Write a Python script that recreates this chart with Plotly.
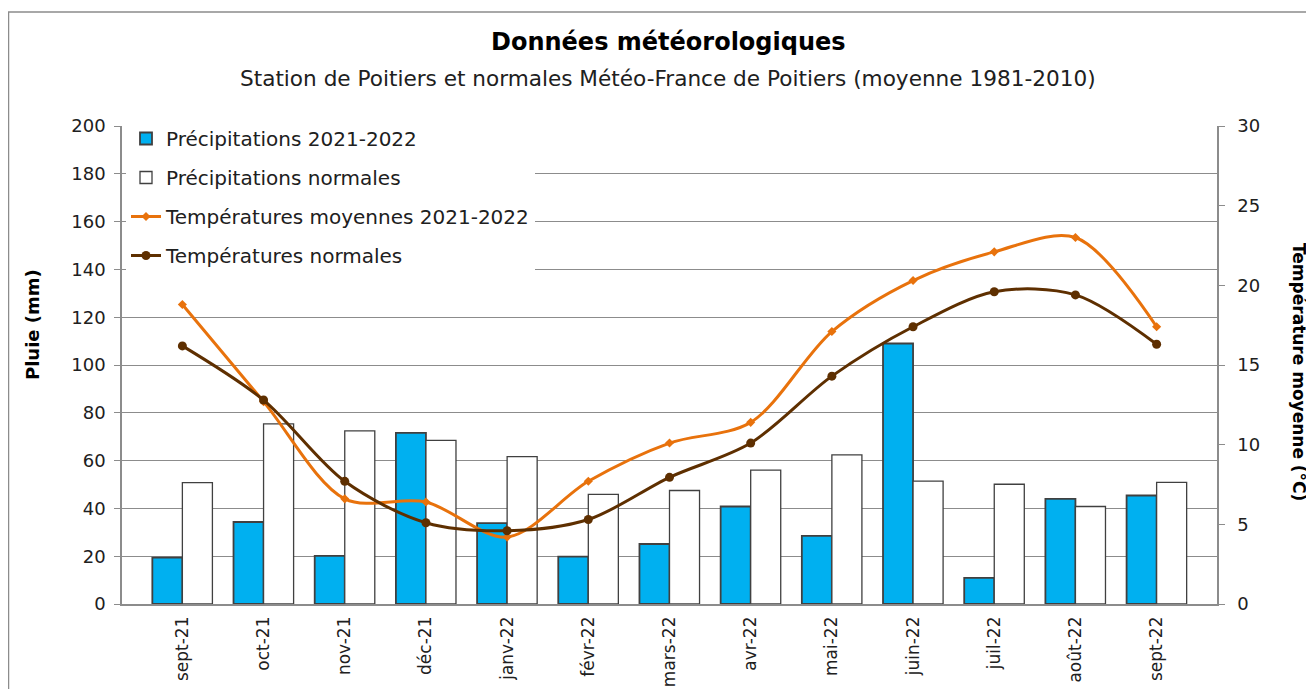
import plotly.graph_objects as go

months = ["sept-21", "oct-21", "nov-21", "déc-21", "janv-22", "févr-22", "mars-22",
          "avr-22", "mai-22", "juin-22", "juil-22", "août-22", "sept-22"]

pluie_2122 = [19.4, 34.3, 20.1, 71.6, 33.8, 19.8, 25.1, 40.8, 28.5, 109.0, 10.9, 44.0, 45.4]
pluie_normale = [50.8, 75.4, 72.4, 68.5, 61.7, 45.9, 47.5, 56.0, 62.4, 51.4, 50.1, 40.8, 50.9]
temp_2122 = [18.8, 12.7, 6.6, 6.4, 4.2, 7.7, 10.1, 11.4, 17.1, 20.3, 22.1, 23.0, 17.4]
temp_normale = [16.2, 12.8, 7.7, 5.1, 4.6, 5.3, 7.95, 10.1, 14.3, 17.4, 19.6, 19.4, 16.3]

BLUE = "#00B0F0"
EDGE = "#404040"
ORANGE = "#E8720C"
BROWN = "#5E2F00"
GRID = "#8C8C8C"
FONT = "DejaVu Sans"

# the page body adds 8px around the figure, so the figure is 8px smaller
W, H = 1306, 681
L, R, T, B = 114, 97, 118, 85
plot_w = W - L - R
plot_h = H - T - B


def px_x(x):
    return (x - L) / plot_w


def px_y(y):
    return (H - B - y) / plot_h


fig = go.Figure()

fig.add_trace(go.Bar(
    x=months, y=pluie_2122, name="Précipitations 2021-2022",
    marker=dict(color=BLUE, line=dict(color=EDGE, width=1.8)),
    legendgroup="a",
))
fig.add_trace(go.Bar(
    x=months, y=pluie_normale, name="Précipitations normales",
    marker=dict(color="white", line=dict(color=EDGE, width=1.3)),
    legendgroup="b",
))
fig.add_trace(go.Scatter(
    x=months, y=temp_2122, name="Températures moyennes 2021-2022",
    yaxis="y2", mode="lines+markers",
    line=dict(color=ORANGE, width=3, shape="spline", smoothing=0.9),
    marker=dict(symbol="diamond", size=7, color=ORANGE),
    legendgroup="c",
))
fig.add_trace(go.Scatter(
    x=months, y=temp_normale, name="Températures normales",
    yaxis="y2", mode="lines+markers",
    line=dict(color=BROWN, width=3, shape="spline", smoothing=0.9),
    marker=dict(symbol="circle", size=9, color=BROWN),
    legendgroup="d",
))

fig.update_layout(
    width=W, height=H,
    margin=dict(l=L, r=R, t=T, b=B, autoexpand=False),
    paper_bgcolor="white", plot_bgcolor="white",
    font=dict(family=FONT, size=18, color="#202020"),
    barmode="group", bargap=0.26, bargroupgap=0,
    showlegend=True,
    legend=dict(
        x=px_x(118), y=px_y(111), xanchor="left", yanchor="top",
        bgcolor="white", borderwidth=0,
        font=dict(family=FONT, size=20, color="#202020"),
        traceorder="grouped", tracegroupgap=10,
        itemwidth=30,
    ),
    xaxis=dict(
        tickangle=-90, showgrid=False, showline=True, linecolor=GRID, linewidth=1.5,
        ticks="", tickfont=dict(size=17), ticklabelstandoff=4,
    ),
    yaxis=dict(
        range=[0, 200], dtick=20, showgrid=True, gridcolor=GRID, gridwidth=1.2,
        showline=True, linecolor=GRID, linewidth=1.5, ticks="outside", ticklen=6,
        tickcolor=GRID, zeroline=False, ticklabelstandoff=5,
    ),
    yaxis2=dict(
        range=[0, 30], dtick=5, overlaying="y", side="right", showgrid=False,
        showline=True, linecolor=GRID, linewidth=1.5, ticks="outside", ticklen=6,
        tickcolor=GRID, zeroline=False, ticklabelstandoff=9,
    ),
    annotations=[
        dict(text="<b>Données météorologiques</b>", x=px_x(660), y=px_y(34),
             xref="paper", yref="paper", showarrow=False, yanchor="middle",
             font=dict(size=24, color="black")),
        dict(text="Station de Poitiers et normales Météo-France de Poitiers (moyenne 1981-2010)",
             x=px_x(660), y=px_y(71), xref="paper", yref="paper", showarrow=False,
             yanchor="middle", font=dict(size=21.6, color="#202020")),
        dict(text="<b>Pluie (mm)</b>", textangle=-90, x=px_x(24), y=px_y(317),
             xref="paper", yref="paper", showarrow=False, xanchor="center", yanchor="middle",
             font=dict(size=18, color="black")),
        dict(text="<b>Température moyenne (°C)</b>", textangle=90, x=px_x(1291), y=px_y(364),
             xref="paper", yref="paper", showarrow=False, xanchor="center", yanchor="middle",
             font=dict(size=17, color="black")),
    ],
)

# outer frame
fig.add_shape(type="rect", xref="paper", yref="paper",
              x0=px_x(0.5), x1=px_x(1301), y0=px_y(700), y1=px_y(4),
              line=dict(color="#8C8C8C", width=1.5), layer="below")

fig.write_html("out.html")
